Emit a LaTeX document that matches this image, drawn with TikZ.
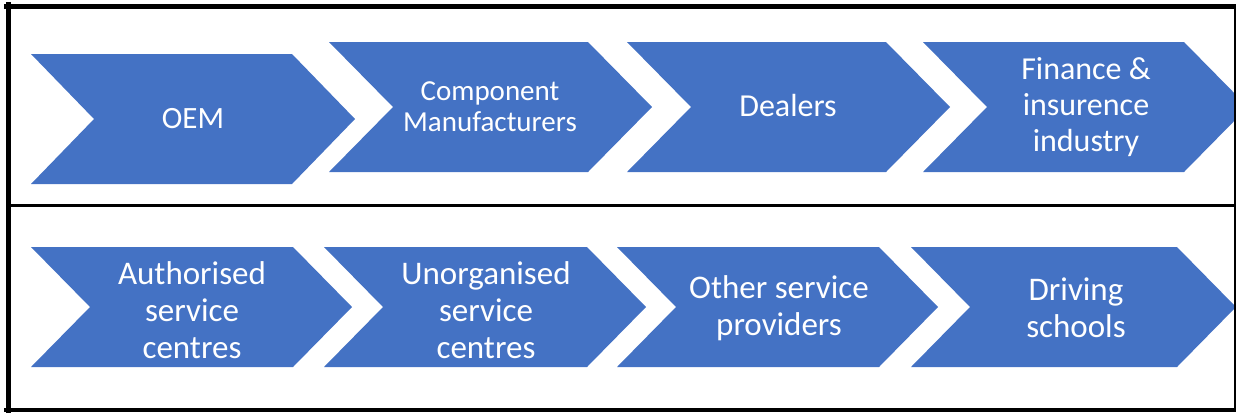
\documentclass[tikz,border=0pt]{standalone}
\usepackage{fontspec}
\setmainfont{Carlito}
\definecolor{chevblue}{HTML}{4472C4}

% chevron: tail x, body corner x, top y, bottom y, tip depth
\newcommand\chevshape[5]{%
  \fill[chevfill] (#1,#3) -- (#2,#3) -- ({#2+#5},{(#3+#4)/2}) -- (#2,#4)
    -- (#1,#4) -- ({#1+#5},{(#3+#4)/2}) -- cycle;}

\tikzset{
  chevfill/.style={fill=chevblue},
  chevtext/.style={text=white, align=center, inner sep=0pt},
  frameline/.style={draw=black, line cap=rect},
  upperfont/.style={font=\fontsize{21.75}{23.25}\selectfont},
  lowerfont/.style={font=\fontsize{24.75}{27.75}\selectfont},
}

\begin{document}
\begin{tikzpicture}[x=0.75pt, y=-0.75pt]
\useasboundingbox (0,0) rectangle (1236,412);

% upper row of chevrons
\begin{scope}
  \clip (0,0) rectangle (1235,412);
  \chevshape{31}{292}{54}{184}{63}
  \chevshape{329}{588}{42}{172}{64}
  \chevshape{627}{886}{42}{172}{64}
  \chevshape{923}{1184}{42}{172}{64}
\end{scope}
\node[chevtext, font=\fontsize{23.25}{27}\selectfont] (oem) at (193,119) {OEM};
\node[chevtext, upperfont] (comp) at (490,107) {Component\\Manufacturers};
\node[chevtext, font=\fontsize{24}{27}\selectfont] (deal) at (788,106) {Dealers};
\node[chevtext, font=\fontsize{24}{27}\selectfont] (fin) at (1086,107) {Finance \&\\insurence\\industry};

% lower row of chevrons
\chevshape{31}{293}{247}{367}{59}
\chevshape{324}{587}{247}{367}{59}
\chevshape{617}{879}{247}{367}{59}
\chevshape{911}{1177}{247}{367}{59}
\node[chevtext, lowerfont] (auth) at (192,310) {Authorised\\service\\centres};
\node[chevtext, lowerfont] (unorg) at (486,310) {Unorganised\\service\\centres};
\node[chevtext, lowerfont] (other) at (779,308) {Other service\\providers};
\node[chevtext, lowerfont] (drive) at (1076,308) {Driving\\schools};

% frame and divider
\draw[frameline, line width=3.75pt] (6,6.5) -- (1236,6.5);
\draw[frameline, line width=3.75pt] (8.5,4) -- (8.5,412);
\draw[frameline, line width=3pt] (6,409.5) -- (1236,409.5);
\draw[draw=black, line width=1.5pt] (1235,4) -- (1235,412);
\draw[frameline, line width=2.25pt] (8,205.5) -- (1236,205.5);
\end{tikzpicture}
\end{document}
